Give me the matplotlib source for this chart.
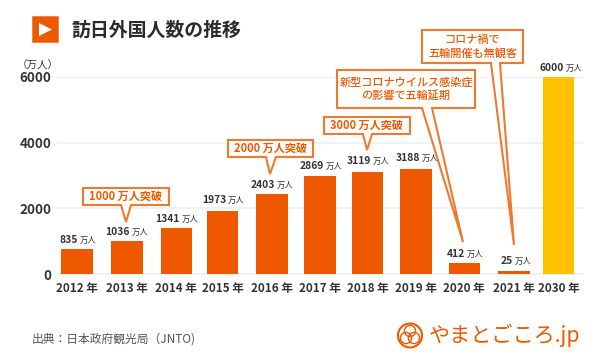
import matplotlib
matplotlib.use("Agg")
import matplotlib.pyplot as plt
from matplotlib.patches import Polygon, Rectangle, Circle

plt.rcParams['font.family'] = ['Noto Sans CJK JP', 'DejaVu Sans']

# ---- data ----
years = ['2012 年', '2013 年', '2014 年', '2015 年', '2016 年', '2017 年',
         '2018 年', '2019 年', '2020 年', '2021 年', '2030 年']
bar_heights = [761, 1005, 1400, 1918, 2436, 2985, 3106, 3198, 335, 91, 6000]
label_values = ['835', '1036', '1341', '1973', '2403', '2869',
                '3119', '3188', '412', '25', '6000']
yticks = [0, 2000, 4000, 6000]

# ---- layout (pixels of the 600x361 picture) ----
W, H = 600, 361
bar_centers = [77.2, 127, 176.3, 222.7, 272, 320, 367.7, 416.2, 464.3, 514, 558.5]
label_split = [77.5, 130, 180, 226, 275, 324, 371, 420, 465, 512.5, 563.5]
label_y = [240, 232, 219, 200, 185, 166, 161, 158, 254, 261, 68]
ORANGE = '#EE5900'
EDGE = '#EE7A2F'
YELLOW = '#FFC000'
DARK = '#333333'

fig = plt.figure(figsize=(W / 100, H / 100), dpi=100, facecolor='white')

# main axes: y scale 0 at pixel 274, 6000 at pixel 77
ax = fig.add_axes([57 / W, (H - 274) / H, 526 / W, 197 / H])
ax.set_xlim(57, 583)
ax.set_ylim(0, 6000)
colors = [YELLOW if y.startswith('2030') else ORANGE for y in years]
ax.bar(bar_centers, bar_heights, width=31.5, color=colors, zorder=3)
for s in ax.spines.values():
    s.set_visible(False)
ax.set_yticks(yticks)
ax.set_yticklabels([str(v) for v in yticks], fontsize=9.7, fontweight='bold', color=DARK)
ax.set_xticks(bar_centers)
ax.set_xticklabels(years, fontsize=8.4, fontweight='bold', color=DARK)
ax.tick_params(axis='both', length=0)
ax.tick_params(axis='y', pad=4)
ax.tick_params(axis='x', pad=6)
ax.yaxis.grid(True, color='#E9EDF3', linewidth=1.1, zorder=0)
ax.set_axisbelow(True)
for t in ax.yaxis.get_gridlines()[:1]:
    t.set_clip_on(False)

# overlay in pixel coordinates for annotations
ov = fig.add_axes([0, 0, 1, 1], facecolor='none')
ov.set_xlim(0, W)
ov.set_ylim(H, 0)
ov.axis('off')

# title block
ov.add_patch(Rectangle((32, 16), 26, 26, facecolor=ORANGE, edgecolor='#F08040', lw=0.6))
ov.add_patch(Polygon([(39, 23), (39, 36), (52, 29.5)], facecolor='white', edgecolor='none'))
ov.text(71.5, 30, '訪日外国人数の推移', fontsize=13.6, fontweight='bold',
        color='#2B2B2B', va='center', ha='left')
ov.text(38, 65, '（万人）', fontsize=7.6, color=DARK, va='center', ha='center')

# value labels
for split, y, val in zip(label_split, label_y, label_values):
    ov.text(split, y, val, fontsize=7.4, fontweight='bold', color=DARK, ha='right', va='center')
    ov.text(split + 2, y + 0.3, '万人', fontsize=6, color=DARK, ha='left', va='center')


def callout(left, right, top, bottom, base0, base1, tip, lines, fs, weight='bold'):
    pts = [(left, top), (right, top), (right, bottom), (base1, bottom), tip,
           (base0, bottom), (left, bottom)]
    ov.add_patch(Polygon(pts, closed=True, facecolor='white', edgecolor=EDGE,
                         lw=1.5, joinstyle='miter', zorder=5))
    cy = (top + bottom) / 2
    n = len(lines)
    for i, line in enumerate(lines):
        ov.text((left + right) / 2, cy + (i - (n - 1) / 2) * 13.2, line, fontsize=fs,
                fontweight=weight, color=ORANGE,
                ha='center', va='center', zorder=6)


callout(83, 169, 188, 205, 121, 131, (126, 222), ['1000 万人突破'], 8.0)
callout(228, 313, 140, 157, 266, 276, (270, 174), ['2000 万人突破'], 8.0)
callout(324, 410, 117, 134, 363, 372, (367, 150), ['3000 万人突破'], 8.0)
callout(337, 475, 70, 108, 422, 432, (463, 242),
        ['新型コロナウイルス感染症', 'の影響で五輪延期'], 8.0, 'medium')
callout(422, 523, 30, 63, 491, 500, (514, 245),
        ['コロナ禍で', '五輪開催も無観客'], 8.0, 'medium')

# source
ov.text(32, 339, '出典：日本政府観光局（JNTO)', fontsize=8.5, color='#555555',
        ha='left', va='center')

# logo
ov.add_patch(Circle((410, 335.5), 12, facecolor='none', edgecolor=ORANGE, lw=1.5))
for cx, cy in [(410, 331), (406, 338), (414, 338)]:
    ov.add_patch(Circle((cx, cy), 5.6, facecolor='none', edgecolor=ORANGE, lw=1.0))
ov.text(428.5, 335, 'やまとごころ.jp', fontsize=15.2, color=ORANGE, ha='left', va='center')

fig.savefig('out.png', dpi=100, facecolor='white')
